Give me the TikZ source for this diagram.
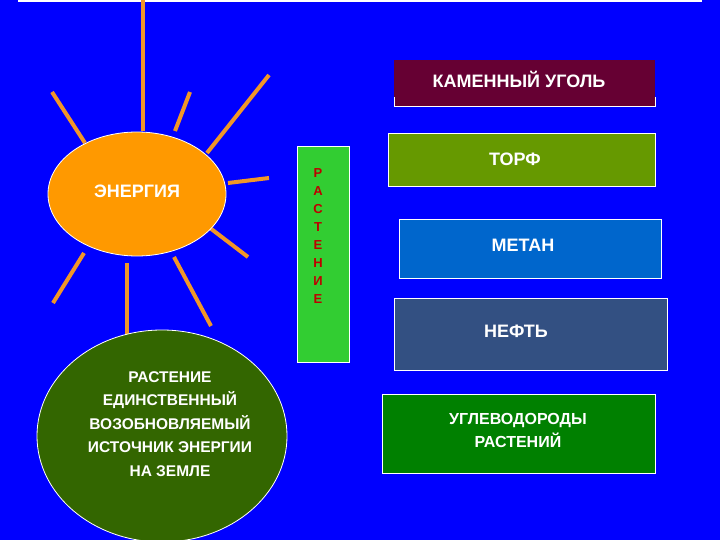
\documentclass[tikz,border=0pt]{standalone}
\usepackage{fontspec}
\setmainfont{Liberation Sans}
\definecolor{sunc}{RGB}{255,153,0}
\definecolor{rayc}{RGB}{240,150,40}
\definecolor{plantc}{RGB}{51,102,0}
\definecolor{vertc}{RGB}{50,205,50}
\definecolor{vertt}{RGB}{190,0,0}
\definecolor{coalc}{RGB}{102,0,51}
\definecolor{torfc}{RGB}{102,153,0}
\definecolor{metanc}{RGB}{0,102,204}
\definecolor{neftc}{RGB}{51,80,130}
\definecolor{uglc}{RGB}{0,128,0}
\begin{document}
\begin{tikzpicture}[x=1pt,y=-1pt,
 ray/.style={draw=rayc,line width=4pt},
 lbl/.style={font=\bfseries\fontsize{18}{20}\selectfont,text=white}]
\fill[blue] (0,0) rectangle (720,540);
\useasboundingbox (0,0) rectangle (720,540);
\draw[white,line width=1.2pt] (18,1) -- (702,1);
% rays
\coordinate (r0a) at (143,0); \coordinate (r0b) at (143,131);
\draw[ray] (r0a) -- (r0b);
\draw[ray] (52,92) -- (85,143);
\draw[ray] (190,92) -- (175,131);
\draw[ray] (269,75) -- (207,153);
\draw[ray] (228,183) -- (269,178);
\draw[ray] (210,228) -- (248,257);
\draw[ray] (174,257) -- (211,326);
\draw[ray] (84,253) -- (53,303);
\draw[ray] (127,263) -- (127,335);
% sun
\draw[white,fill=sunc,line width=0.8pt] (137,194) ellipse [x radius=89,y radius=62];
\node[lbl] (sun) at (137,191) {ЭНЕРГИЯ};
% green ellipse
\draw[white,fill=plantc,line width=0.8pt] (162,436) ellipse [x radius=125,y radius=106];
\node[align=center,font=\bfseries\fontsize{15.5}{23.5}\selectfont,text=white] (plant) at (170,424) {РАСТЕНИЕ\\ЕДИНСТВЕННЫЙ\\ВОЗОБНОВЛЯЕМЫЙ\\ИСТОЧНИК ЭНЕРГИИ\\НА ЗЕМЛЕ};
% vertical box
\draw[white,fill=vertc,line width=0.8pt] (297,146) rectangle (349,362);
\node[align=center,font=\bfseries\fontsize{13}{18}\selectfont,text=vertt] (vert) at (318,236) {Р\\А\\С\\Т\\Е\\Н\\И\\Е};
% boxes
\fill[coalc] (394,60) rectangle (655,106);
\draw[white,line width=0.8pt] (394,97) -- (394,106) -- (655,106) -- (655,97);
\node[lbl] (coal) at (519,79) {КАМЕННЫЙ УГОЛЬ};
\draw[white,fill=torfc,line width=0.8pt] (388,133) rectangle (655,186);
\node[lbl] (torf) at (515,159) {ТОРФ};
\draw[white,fill=metanc,line width=0.8pt] (399,219) rectangle (661,278);
\node[lbl] (metan) at (523,245) {МЕТАН};
\draw[white,fill=neftc,line width=0.8pt] (394,298) rectangle (667,370);
\node[lbl] (neft) at (516,331) {НЕФТЬ};
\draw[white,fill=uglc,line width=0.8pt] (382,394) rectangle (655,473);
\node[align=center,font=\bfseries\fontsize{16}{23}\selectfont,text=white] (ugl) at (518,430) {УГЛЕВОДОРОДЫ\\РАСТЕНИЙ};
\end{tikzpicture}
\end{document}
